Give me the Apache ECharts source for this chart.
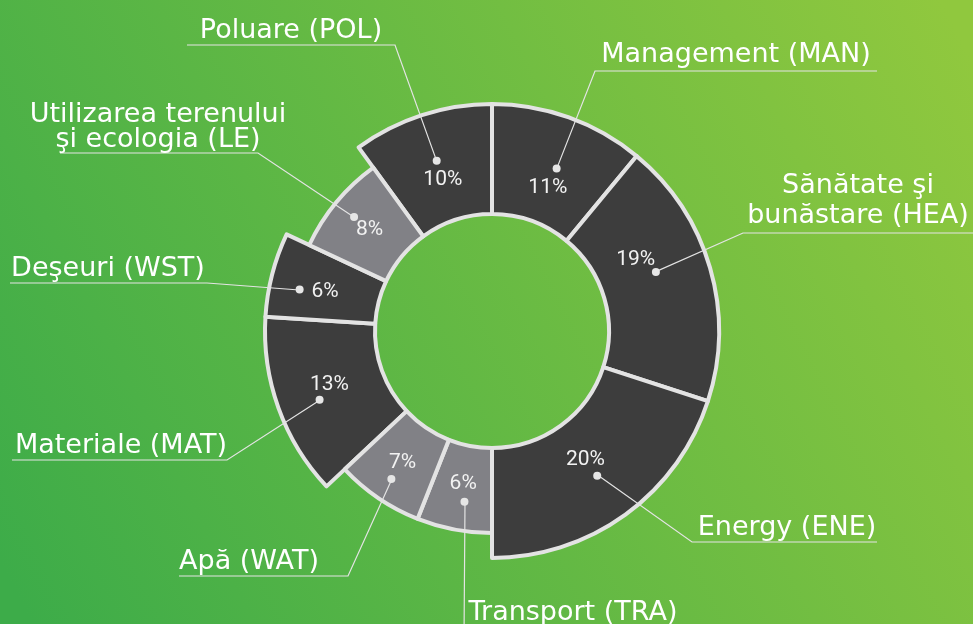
<!DOCTYPE html>
<html>
<head>
<meta charset="utf-8">
<title>BREEAM</title>
<script src="https://cdn.jsdelivr.net/npm/echarts@6/dist/echarts.min.js"></script>
<style>
  html, body { margin: 0; padding: 0; }
  #chart { width: 973px; height: 624px; }
</style>
</head>
<body>
<div id="chart"></div>
<script>
  // categorii si ponderi (%)
  var names = ['Management (MAN)', 'Sănătate şi\nbunăstare (HEA)', 'Energy (ENE)', 'Transport (TRA)', 'Apă (WAT)',
    'Materiale (MAT)', 'Deşeuri (WST)', 'Utilizarea terenului\nşi ecologia (LE)', 'Poluare (POL)'];
  var shares = [11, 19, 20, 6, 7, 13, 6, 8, 10];
  // categoriile desenate mai scurt, in gri
  var lightGroup = ['Transport (TRA)', 'Apă (WAT)', 'Utilizarea terenului\nşi ecologia (LE)'];

  var CX = 492, CY = 331;

  // pozitia etichetelor exterioare (text + linia de sub text)
  var outerLayout = [
    { x: 736, y: 70, line: [[595, 71], [877, 71]] },
    { x: 858, y: 231, line: [[743, 233], [990, 233]], lh: 30 },
    { x: 787, y: 543, line: [[692, 542], [877, 542]] },
    { x: 573, y: 628, line: [[464, 640], [680, 640]] },
    { x: 249, y: 577, line: [[348, 576], [179, 576]] },
    { x: 121, y: 461, line: [[227, 460], [12, 460]] },
    { x: 108, y: 284, line: [[207, 283], [10, 283]] },
    { x: 158, y: 152, line: [[258, 153], [60, 153]], lh: 25 },
    { x: 291, y: 46, line: [[395, 45], [187, 45]] }
  ];
  var pctShift = { 0: [2, 6], 1: [-9, -27], 3: [1, -3], 5: [-13, 0], 6: [-13, 0] };
  var dotShift = { 0: [4, 6], 1: [-8, -9], 3: [6, -5], 5: [-4, 8], 6: [-19, 3] };

  var hidden = { color: 'rgba(0,0,0,0)', borderWidth: 0 };

  function ringData(light) {
    return names.map(function (n, i) {
      var isLight = lightGroup.indexOf(n) >= 0;
      return {
        name: n,
        value: shares[i],
        itemStyle: isLight === light ? { color: light ? '#818186' : '#3d3d3d' } : hidden
      };
    });
  }

  function plainData() {
    return names.map(function (n, i) { return { name: n, value: shares[i] }; });
  }

  function midAngle(i) {
    var before = 0, total = 0;
    shares.forEach(function (v, k) { total += v; if (k < i) before += v; });
    return (before + shares[i] / 2) / total * Math.PI * 2;
  }

  var base = {
    type: 'pie',
    center: [CX, CY],
    startAngle: 90,
    clockwise: true,
    silent: true,
    avoidLabelOverlap: false,
    emphasis: { disabled: true }
  };

  var myChart = echarts.init(document.getElementById('chart'));
  myChart.setOption({
    animation: false,
    backgroundColor: new echarts.graphic.LinearGradient(0, 0.9, 1, 0.1, [
      { offset: 0, color: '#3dac49' },
      { offset: 1, color: '#90c83e' }
    ]),
    series: [
      Object.assign({}, base, {
        radius: [117, 227],
        itemStyle: { borderColor: '#e3e3e3', borderWidth: 4 },
        label: { show: false },
        labelLine: { show: false },
        data: ringData(false)
      }),
      Object.assign({}, base, {
        radius: [117, 202],
        itemStyle: { borderColor: '#e3e3e3', borderWidth: 4 },
        label: { show: false },
        labelLine: { show: false },
        data: ringData(true)
      }),
      // procente
      Object.assign({}, base, {
        radius: [117, 195],
        itemStyle: hidden,
        label: {
          show: true,
          position: 'inside',
          formatter: '{c}%',
          color: '#f2f2f2',
          fontFamily: 'Roboto',
          fontSize: 21
        },
        labelLine: { show: false },
        labelLayout: function (p) {
          var s = pctShift[p.dataIndex] || [0, 0];
          return { dx: s[0], dy: s[1] };
        },
        data: plainData()
      }),
      // punctele de plecare ale liniilor
      Object.assign({}, base, {
        radius: [170, 182],
        z: 4,
        itemStyle: hidden,
        label: {
          show: true,
          position: 'inside',
          formatter: ' ',
          fontSize: 6,
          width: 8,
          height: 8,
          lineHeight: 8,
          padding: 0,
          borderRadius: 4,
          backgroundColor: '#e6e6e6'
        },
        labelLine: { show: false },
        labelLayout: function (p) {
          var s = dotShift[p.dataIndex] || [0, 0];
          return { dx: s[0], dy: s[1] };
        },
        data: plainData()
      }),
      // etichete exterioare
      Object.assign({}, base, {
        radius: [0, 176],
        z: 3,
        itemStyle: hidden,
        label: {
          show: true,
          position: 'outside',
          color: '#ffffff',
          fontFamily: 'DejaVu Sans',
          fontSize: 27,
          lineHeight: 30
        },
        labelLine: {
          show: true,
          length: 20,
          length2: 20,
          lineStyle: { color: '#e4e4e4', width: 1.2 }
        },
        labelLayout: function (p) {
          var i = p.dataIndex;
          var o = outerLayout[i];
          var d = dotShift[i] || [0, 0];
          var start;
          if (p.labelLinePoints && p.labelLinePoints[0]) {
            start = p.labelLinePoints[0];
          } else {
            var a = midAngle(i);
            start = [CX + 176 * Math.sin(a), CY - 176 * Math.cos(a)];
          }
          return {
            x: o.x,
            y: o.y,
            align: 'center',
            verticalAlign: 'bottom',
            labelLinePoints: [[start[0] + d[0], start[1] + d[1]], o.line[0], o.line[1]]
          };
        },
        data: names.map(function (n, i) {
          var o = outerLayout[i];
          var item = { name: n, value: shares[i] };
          if (o.lh) item.label = { lineHeight: o.lh };
          return item;
        })
      })
    ]
  });
</script>
</body>
</html>
